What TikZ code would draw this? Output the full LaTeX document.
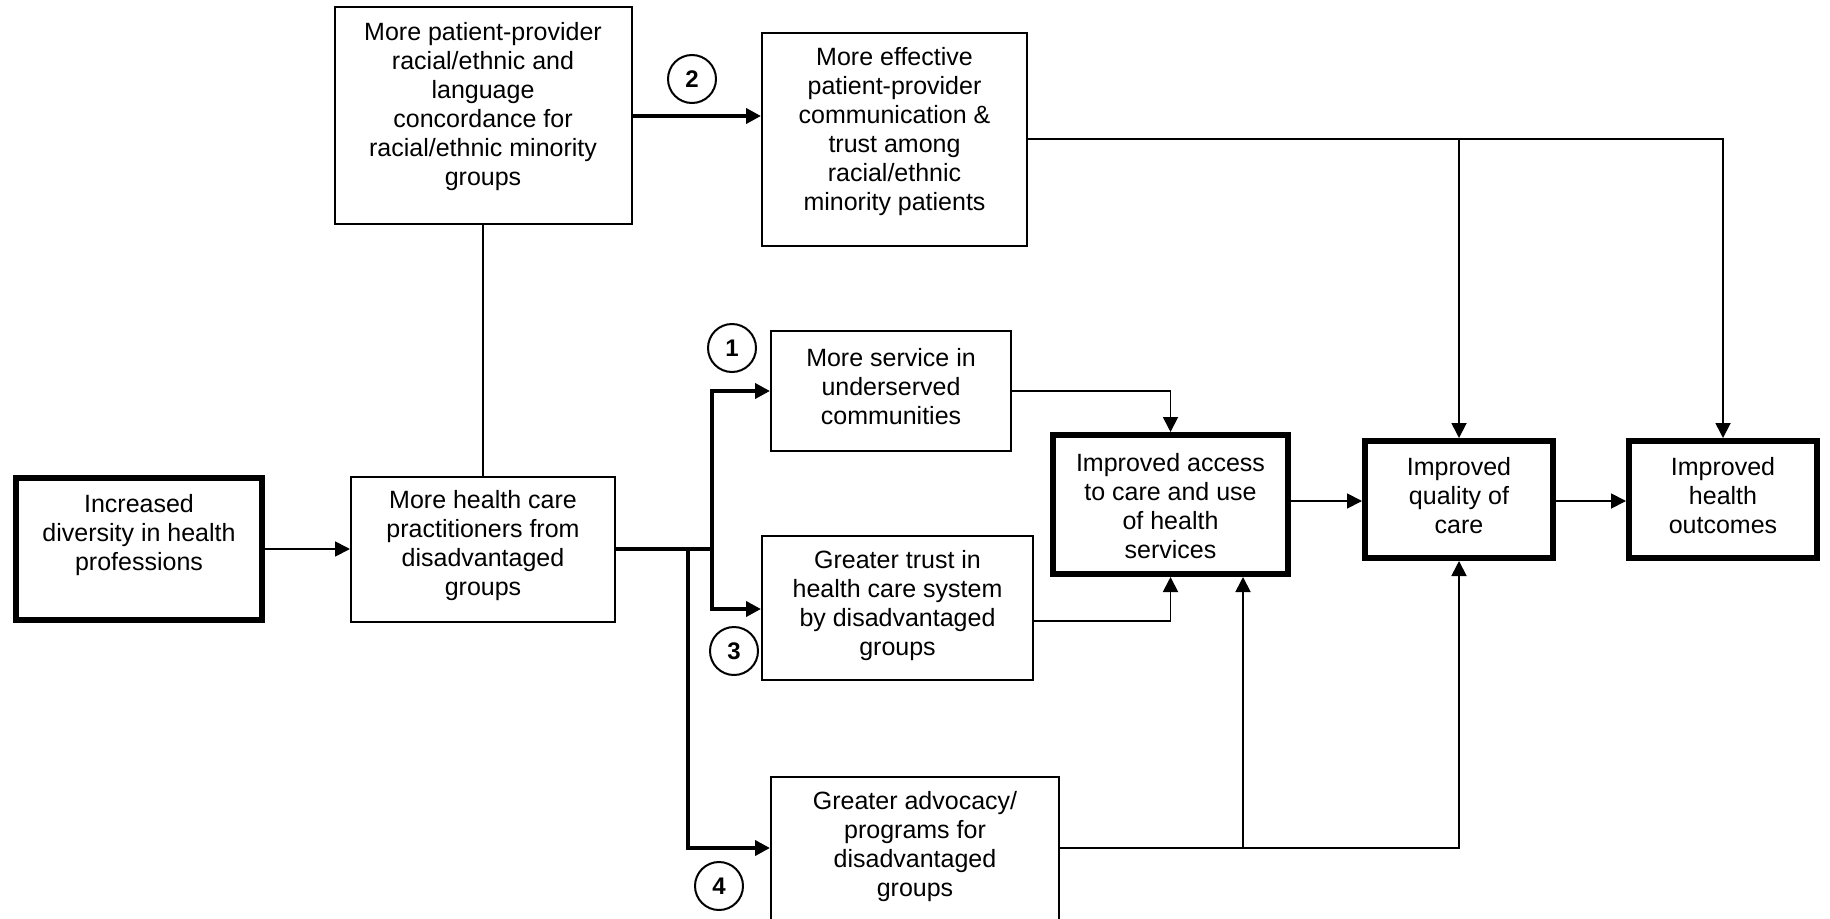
\documentclass[tikz,border=0pt]{standalone}
\usepackage{fontspec}
\setmainfont{Liberation Sans}
\usetikzlibrary{arrows.meta}
\begin{document}
\begin{tikzpicture}[x=1pt,y=-1pt,
  box/.style={draw=black,line width=2pt,rectangle,inner sep=0pt},
  bigbox/.style={draw=black,line width=6pt,rectangle,inner sep=0pt},
  txt/.style={align=center,inner sep=0pt,font=\fontsize{25pt}{29pt}\selectfont},
  num/.style={draw=black,line width=2pt,circle,minimum size=48pt,inner sep=0pt,font=\fontsize{24pt}{26pt}\selectfont\bfseries},
  thin/.style={line width=1.8pt},
  thick/.style={line width=4pt},
  arr/.style={-{Triangle[length=15pt,width=15pt]}}
]
\useasboundingbox (0,0) rectangle (1830,918);
\clip (0,0) rectangle (1830,918);

% boxes
\node[bigbox,minimum width=246pt,minimum height=142pt] (inc) at (139,549) {};
\node[box,minimum width=264pt,minimum height=145pt] (prac) at (483,549) {};
\node[box,minimum width=297pt,minimum height=217pt] (conc) at (483,115.5) {};
\node[box,minimum width=265pt,minimum height=213pt] (comm) at (894.5,139.5) {};
\node[box,minimum width=240pt,minimum height=120pt] (serv) at (891,391) {};
\node[box,minimum width=271pt,minimum height=144pt] (trust) at (897.5,608) {};
\node[box,minimum width=288pt,minimum height=160pt] (adv) at (915,857) {};
\node[bigbox,minimum width=235pt,minimum height=139pt] (acc) at (1170.5,504.5) {};
\node[bigbox,minimum width=188pt,minimum height=117pt] (qual) at (1459,499.5) {};
\node[bigbox,minimum width=188pt,minimum height=117pt] (out) at (1723,499.5) {};

% texts
\node[txt] (inc-t) at (139,535) {Increased\\diversity in health\\professions};
\node[txt] (prac-t) at (483,546) {More health care\\practitioners from\\disadvantaged\\groups};
\node[txt] (conc-t) at (483,107) {More patient-provider\\racial/ethnic and\\language\\concordance for\\racial/ethnic minority\\groups};
\node[txt] (comm-t) at (894.5,132) {More effective\\patient-provider\\communication \&\\trust among\\racial/ethnic\\minority patients};
\node[txt] (serv-t) at (891,387) {More service in\\underserved\\communities};
\node[txt] (trust-t) at (897.5,606) {Greater trust in\\health care system\\by disadvantaged\\groups};
\node[txt] (adv-t) at (915,847) {Greater advocacy/\\programs for\\disadvantaged\\groups};
\node[txt] (acc-t) at (1170.5,506) {Improved access\\to care and use\\of health\\services};
\node[txt] (qual-t) at (1459,496) {Improved\\quality of\\care};
\node[txt] (out-t) at (1723,496) {Improved\\health\\outcomes};

% numbered circles
\node[num] (c2) at (692,79) {2};
\node[num] (c1) at (732,348) {1};
\node[num] (c3) at (734,651) {3};
\node[num] (c4) at (719,886) {4};

% junctions
\coordinate (j1) at (712,549);
\coordinate (j2) at (688,549);
\coordinate (j3) at (1243,848);

% connectors
\draw[thin,arr] (inc.east) -- (prac.west);
\draw[thin] (conc.south) -- (prac.north);
\draw[thick,arr] (conc.east |- 0,116) -- (comm.west |- 0,116);
\draw[thin,arr] (comm.east |- 0,139) -| (qual.north);
\draw[thin,arr] (comm.east |- 0,139) -| (out.north);

\draw[thick] (prac.east) -- (j1);
\draw[thick,arr] (j1) |- (serv.west);
\draw[thick,arr] (j1) |- (trust.west |- 0,609);
\draw[thick,arr] (j2) |- (adv.west |- 0,848);

\draw[thin,arr] (serv.east) -| (acc.north);
\draw[thin,arr] (trust.east |- 0,621) -| (acc.south);
\draw[thin,arr] (adv.east |- 0,848) -| (qual.south);
\draw[thin,arr] (j3) -- (acc.south -| j3);

\draw[thin,arr] (acc.east |- 0,501) -- (qual.west |- 0,501);
\draw[thin,arr] (qual.east |- 0,501) -- (out.west |- 0,501);
\end{tikzpicture}
\end{document}
